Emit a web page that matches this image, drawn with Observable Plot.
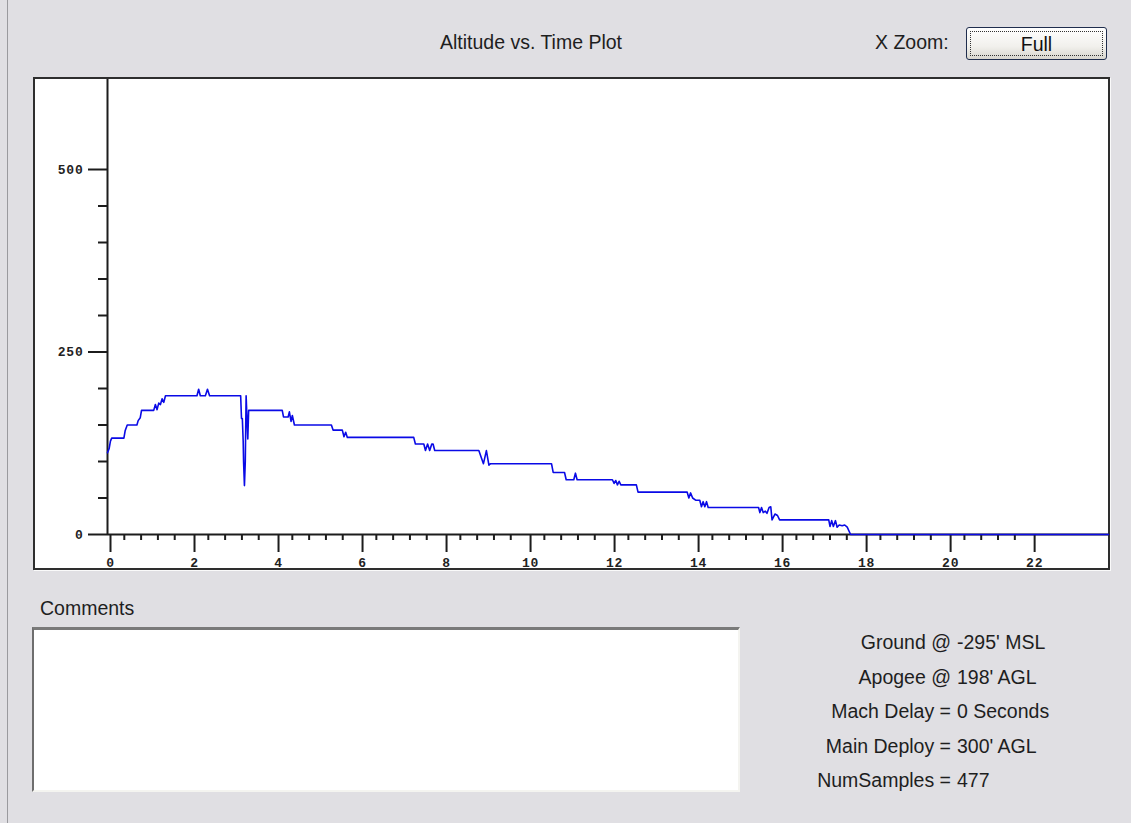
<!DOCTYPE html>
<html>
<head>
<meta charset="utf-8">
<script src="https://cdn.jsdelivr.net/npm/d3@7"></script>
<script src="https://cdn.jsdelivr.net/npm/@observablehq/plot@0.6"></script>
<style>
  html, body { margin: 0; padding: 0; }
  body {
    width: 1131px; height: 823px; position: relative; overflow: hidden;
    background: #e0dfe3; font-family: "Liberation Sans", Arial, sans-serif; color: #1e1e1e;
  }
  .t { position: absolute; font-size: 19.5px; line-height: 24px; height: 24px; white-space: nowrap; }
  #winedge { position: absolute; left: 7px; top: 0; width: 1px; height: 823px; background: #9a9a9e; }
  #frame {
    position: absolute; left: 33px; top: 77px; width: 1077px; height: 493px; box-sizing: border-box;
    border: 2px solid #2e2e2e; background: #fff; box-shadow: 1px 1px 0 #fafafa;
  }
  #chart { position: absolute; left: 0; top: 0; }
  #btn {
    position: absolute; left: 966px; top: 27px; width: 141px; height: 33px; box-sizing: border-box;
    border: 1px solid #1f2d4d; border-radius: 3px;
    background: linear-gradient(#ffffff, #f1f0ec 60%, #d8d6ce);
  }
  #btn .focus {
    position: absolute; left: 3px; top: 3px; right: 3px; bottom: 3px; border: 1px dotted #333;
    text-align: center; font-size: 19.5px; line-height: 25px; color: #111;
  }
  #comments {
    position: absolute; left: 32px; top: 627px; width: 708px; height: 165px; box-sizing: border-box;
    background: #fff; border-top: 3px solid #7a7a7a; border-left: 2px solid #6e6e6e;
    border-right: 2px solid #f4f4f0; border-bottom: 2px solid #f4f4f0;
  }
  .lab { text-align: right; right: 180px; }
  .val { left: 957px; }
</style>
</head>
<body>
<div id="winedge"></div>
<div class="t" style="left:431px; width:200px; top:30px; text-align:center;">Altitude vs. Time Plot</div>
<div class="t" style="left:875px; top:30px;">X Zoom:</div>
<div id="btn"><div class="focus">Full</div></div>
<div id="frame"><div id="chart"></div></div>
<div class="t" style="left:40px; top:596px;">Comments</div>
<div id="comments"></div>
<div id="stats"></div>
<script>
// ---- data ----
const timeSec = [
  0.00, 0.04, 0.07, 0.10, 0.39, 0.42, 0.47, 0.70, 0.73, 0.78, 0.81,
  1.10, 1.14, 1.18, 1.22, 1.26, 1.30, 1.34, 1.38,
  2.13, 2.17, 2.21, 2.33, 2.38, 2.43,
  3.17, 3.19, 3.21, 3.23, 3.24, 3.26, 3.28, 3.30, 3.32, 3.34, 3.36,
  4.16, 4.19, 4.30, 4.33, 4.37, 4.40, 4.45,
  5.33, 5.37, 5.59, 5.63, 5.67, 5.71,
  7.29, 7.33, 7.53, 7.57, 7.62, 7.67, 7.72, 7.75, 7.79,
  8.84, 8.90, 8.95, 9.02, 9.08, 9.12,
  10.57, 10.61, 10.88, 10.92, 11.10, 11.14, 11.18,
  12.02, 12.06, 12.10, 12.14, 12.18, 12.22, 12.59, 12.63,
  13.80, 13.84, 13.88, 13.93, 14.00, 14.10, 14.14, 14.18, 14.22, 14.26, 14.30,
  15.50, 15.53, 15.57, 15.61, 15.66, 15.70, 15.75, 15.79, 15.82, 15.89, 15.95, 16.00,
  17.17, 17.20, 17.24, 17.28, 17.33, 17.37, 17.42, 17.49, 17.55, 17.61, 17.69,
  23.83
];
const altitudeFt = [
  112, 118, 128, 132, 132, 142, 150, 150, 156, 160, 170,
  170, 178, 171, 180, 178, 186, 181, 190,
  190, 199, 190, 190, 199, 190,
  190, 159, 159, 128, 99, 67, 100, 190, 160, 131, 170,
  170, 161, 161, 168, 155, 163, 150,
  150, 143, 143, 134, 140, 133,
  133, 124, 124, 115, 124, 115, 124, 124, 115,
  115, 105, 97, 115, 95, 97,
  97, 85, 85, 75, 75, 84, 75,
  75, 70, 74, 68, 73, 68, 68, 58,
  58, 50, 57, 50, 47, 47, 38, 45, 38, 45, 37,
  37, 30, 37, 30, 32, 29, 37, 38, 20, 28, 26, 20,
  20, 11, 19, 11, 19, 10, 13, 12, 13, 10, 0,
  0
];
const yMajorTicks = [0, 250, 500];
const yMinorTicks = [50, 100, 150, 200, 300, 350, 400, 450];
const xMajorTicks = [0, 2, 4, 6, 8, 10, 12, 14, 16, 18, 20, 22];
const xMinorTicks = d3.range(1, 55).map(i => +(i * 0.4).toFixed(1)).filter(v => Math.abs(v / 2 - Math.round(v / 2)) > 1e-6);
const xDomain = [0, 23.83];
const yDomain = [0, 623.3];

const statLabels = ["Ground @", "Apogee @", "Mach Delay =", "Main Deploy =", "NumSamples ="];
const statValues = ["-295' MSL", "198' AGL", "0 Seconds", "300' AGL", "477"];

const samples = timeSec.map((t, i) => ({t, alt: altitudeFt[i]}));

const axisColor = "#1c1c1c";
const tickFont = {fontFamily: "'Liberation Mono', 'DejaVu Sans Mono', monospace", fontWeight: "bold", fontSize: 13};

const chart = Plot.plot({
  width: 1073,
  height: 489,
  marginLeft: 72,
  marginRight: 0,
  marginTop: 0,
  marginBottom: 34,
  style: {background: "white", overflow: "visible", letterSpacing: "0.8px"},
  x: {domain: xDomain, label: null},
  y: {domain: yDomain, label: null},
  marks: [
    Plot.axisY({ticks: yMinorTicks, tickSize: 9, tickFormat: () => "", label: null, stroke: axisColor, strokeWidth: 2}),
    Plot.axisY({ticks: yMajorTicks, tickSize: 19, tickPadding: 5, label: null, stroke: axisColor, strokeWidth: 2,
      fill: "#222", tickFormat: d => String(d), ...tickFont}),
    Plot.axisX({ticks: xMinorTicks, tickSize: 6, tickFormat: () => "", label: null, stroke: axisColor, strokeWidth: 2}),
    Plot.axisX({ticks: xMajorTicks, tickSize: 18, tickPadding: 5, label: null, stroke: axisColor, strokeWidth: 2,
      fill: "#222", dx: 3, tickFormat: d => String(d), ...tickFont}),
    Plot.ruleX([0], {stroke: axisColor, strokeWidth: 2}),
    Plot.ruleY([0], {stroke: axisColor, strokeWidth: 2}),
    Plot.line(samples, {x: "t", y: "alt", stroke: "#0a0ae6", strokeWidth: 1.6})
  ]
});
document.getElementById("chart").appendChild(chart);

const stats = document.getElementById("stats");
const rowTops = [630, 665, 699, 734, 768];
statLabels.forEach((lab, i) => {
  const a = document.createElement("div");
  a.className = "t lab"; a.style.top = rowTops[i] + "px"; a.textContent = lab;
  const b = document.createElement("div");
  b.className = "t val"; b.style.top = rowTops[i] + "px"; b.textContent = statValues[i];
  stats.appendChild(a); stats.appendChild(b);
});
</script>
</body>
</html>
